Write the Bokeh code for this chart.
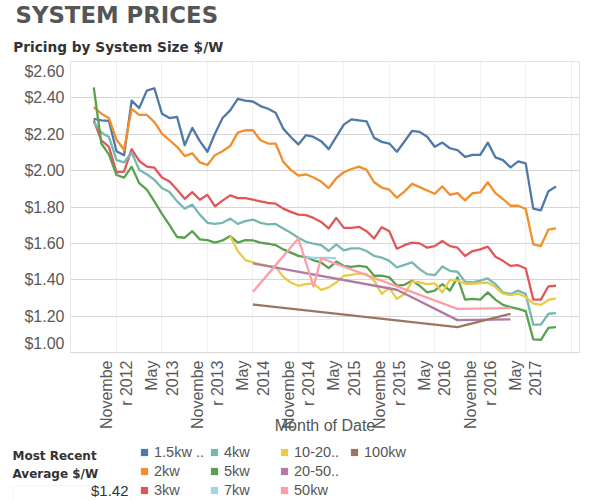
from bokeh.plotting import figure
from bokeh.models import (Range1d, FixedTicker, Label, Legend, LegendItem, ColumnDataSource,
                          BoxAnnotation)
from bokeh.layouts import column
from bokeh.embed import file_html
from bokeh.resources import INLINE
import math

# ---------------- data ----------------
series_names = ["1.5kw ..", "2kw", "3kw", "4kw", "5kw", "7kw", "10-20..", "20-50..", "50kw", "100kw"]
series_colors = ["#4e79a7", "#f28e2b", "#e15759", "#76b7b2", "#59a14f", "#9fd3e6",
                 "#edc948", "#b07aa1", "#ff9da7", "#9c755f"]

# monthly months Aug 2012 .. Sep 2017
full_months = (["2012-%02d" % m for m in range(8, 13)]
               + ["%d-%02d" % (y, m) for y in (2013, 2014, 2015, 2016) for m in range(1, 13)]
               + ["2017-%02d" % m for m in range(1, 10)])

kw1_5 = [2.285, 2.276, 2.273, 2.107, 2.085,
         2.385, 2.344, 2.44, 2.453, 2.313, 2.289, 2.295, 2.14, 2.235, 2.162, 2.104, 2.204,
         2.289, 2.331, 2.395, 2.385, 2.38, 2.355, 2.34, 2.318, 2.231, 2.185, 2.144, 2.195,
         2.185, 2.162, 2.118, 2.185, 2.253, 2.282, 2.276, 2.271, 2.18, 2.158, 2.149, 2.104,
         2.16, 2.218, 2.213, 2.186, 2.131, 2.154, 2.123, 2.113, 2.076, 2.087, 2.087, 2.154,
         2.073, 2.058, 2.018, 2.051, 2.04, 1.791, 1.782, 1.887, 1.913]
kw2 = [2.349, 2.313, 2.289, 2.17, 2.115,
       2.34, 2.307, 2.307, 2.267, 2.204, 2.167, 2.131, 2.08, 2.095, 2.045, 2.031, 2.085,
       2.107, 2.135, 2.209, 2.222, 2.222, 2.167, 2.149, 2.149, 2.049, 2.004, 1.973, 1.98,
       1.962, 1.94, 1.904, 1.958, 1.991, 2.009, 2.022, 2.004, 1.936, 1.907, 1.895, 1.851,
       1.885, 1.927, 1.909, 1.891, 1.873, 1.913, 1.867, 1.876, 1.836, 1.876, 1.88, 1.936,
       1.876, 1.844, 1.807, 1.807, 1.789, 1.595, 1.585, 1.676, 1.682]
kw3 = [2.276, 2.167, 2.131, 1.991, 1.995,
       2.118, 2.053, 2.022, 2.016, 1.962, 1.94, 1.895, 1.845, 1.882, 1.84, 1.867, 1.804,
       1.835, 1.864, 1.849, 1.849, 1.84, 1.831, 1.822, 1.818, 1.791, 1.773, 1.758, 1.755,
       1.74, 1.718, 1.682, 1.74, 1.685, 1.685, 1.691, 1.667, 1.627, 1.689, 1.667, 1.57,
       1.59, 1.604, 1.6, 1.576, 1.585, 1.613, 1.585, 1.576, 1.531, 1.558, 1.567, 1.582,
       1.527, 1.504, 1.476, 1.48, 1.462, 1.291, 1.291, 1.364, 1.367]
kw4 = [2.267, 2.209, 2.185, 2.058, 2.045,
       2.1, 2.004, 1.98, 1.949, 1.904, 1.882, 1.831, 1.791, 1.813, 1.758, 1.713, 1.707,
       1.713, 1.736, 1.707, 1.722, 1.731, 1.713, 1.704, 1.707, 1.682, 1.658, 1.631, 1.609,
       1.598, 1.591, 1.558, 1.595, 1.562, 1.573, 1.573, 1.558, 1.531, 1.522, 1.504, 1.468,
       1.482, 1.495, 1.458, 1.431, 1.425, 1.473, 1.449, 1.444, 1.389, 1.385, 1.395, 1.407,
       1.376, 1.331, 1.322, 1.34, 1.322, 1.153, 1.153, 1.213, 1.216]
kw5 = [2.458, 2.149, 2.089, 1.976, 1.962,
       2.022, 1.931, 1.895, 1.831, 1.762, 1.7, 1.635, 1.631, 1.667, 1.622, 1.618, 1.604,
       1.616, 1.64, 1.604, 1.618, 1.616, 1.604, 1.598, 1.591, 1.567, 1.549, 1.531, 1.525,
       1.507, 1.495, 1.464, 1.5, 1.476, 1.471, 1.476, 1.471, 1.422, 1.422, 1.413, 1.368,
       1.372, 1.395, 1.367, 1.331, 1.34, 1.376, 1.34, 1.413, 1.291, 1.295, 1.291, 1.331,
       1.291, 1.262, 1.249, 1.24, 1.227, 1.072, 1.07, 1.135, 1.14]

kw7_months = ["2014-12", "2015-01", "2015-02", "2015-03", "2015-04"]
kw7 = [1.525, 1.52, 1.52, 1.52, 1.518]

kw10_20_months = full_months[full_months.index("2014-02"):]
kw10_20 = [1.64, 1.558, 1.508, 1.495, 1.485, 1.476, 1.471, 1.416, 1.385, 1.367, 1.376,
           1.38, 1.344, 1.358, 1.385, 1.422, 1.427, 1.435, 1.431, 1.395, 1.322, 1.355, 1.295,
           1.322, 1.39, 1.385, 1.376, 1.38, 1.33, 1.40, 1.395, 1.378, 1.378, 1.382, 1.385,
           1.36, 1.324, 1.315, 1.324, 1.305, 1.27, 1.262, 1.289, 1.298]

kw20_50_months = ["2014-05", "2015-12", "2016-08", "2017-03"]
kw20_50 = [1.49, 1.345, 1.178, 1.182]
kw50_months = ["2014-05", "2014-11", "2015-01", "2015-02", "2016-08", "2017-03"]
kw50 = [1.333, 1.627, 1.363, 1.518, 1.24, 1.244]
kw100_months = ["2014-05", "2016-08", "2017-03"]
kw100 = [1.264, 1.14, 1.213]

tick_months = ["2012-11", "2013-05", "2013-11", "2014-05", "2014-11", "2015-05",
               "2015-11", "2016-05", "2016-11", "2017-05"]
tick_labels = ["Novembe\nr 2012", "May\n2013", "Novembe\nr 2013", "May\n2014",
               "Novembe\nr 2014", "May\n2015", "Novembe\nr 2015", "May\n2016",
               "Novembe\nr 2016", "May\n2017"]
grid_months = tick_months + ["2017-11"]

y_grid = [1.2, 1.4, 1.6, 1.8, 2.0, 2.2, 2.4]
y_labels = ["$1.00", "$1.20", "$1.40", "$1.60", "$1.80", "$2.00", "$2.20", "$2.40", "$2.60"]
y_label_pos = [1.052, 1.2, 1.4, 1.6, 1.8, 2.0, 2.2, 2.4, 2.545]

most_recent_avg = "$1.42"


def mi(s):
    y, m = s.split("-")
    return (int(y) - 2012) * 12 + (int(m) - 11)


series = [
    (full_months, kw1_5), (full_months, kw2), (full_months, kw3), (full_months, kw4),
    (full_months, kw5), (kw7_months, kw7), (kw10_20_months, kw10_20),
    (kw20_50_months, kw20_50), (kw50_months, kw50), (kw100_months, kw100),
]

W = 590


def no_align(f):
    if "frame_align" in f.properties():
        f.frame_align = False
    return f


def blank(height):
    f = figure(width=W, height=height, output_backend="svg", toolbar_location=None,
               title=None, x_axis_type=None, y_axis_type=None,
               x_range=Range1d(0, 1), y_range=Range1d(0, 1),
               min_border=0, min_border_left=0, min_border_right=0,
               min_border_top=0, min_border_bottom=0)
    f.outline_line_color = None
    f.grid.visible = False
    f.background_fill_color = "white"
    f.border_fill_color = "white"
    return no_align(f)


# ---------------- header ----------------
head = blank(58)
head.add_layout(Label(x=15, y=43.5, x_units="screen", y_units="screen", text="SYSTEM PRICES",
                      text_font="DejaVu Sans", text_font_style="bold", text_font_size="22.8px",
                      text_color="#555555", text_baseline="alphabetic"))
head.add_layout(Label(x=12.7, y=11.3, x_units="screen", y_units="screen",
                      text="Pricing by System Size $/W",
                      text_font="DejaVu Sans", text_font_style="bold", text_font_size="13.7px",
                      text_color="#333333", text_baseline="alphabetic"))

# ---------------- main chart ----------------
p = figure(width=W, height=378, output_backend="svg", toolbar_location=None,
           title=None, x_range=Range1d(-6.07, 61.1), y_range=Range1d(1.0, 2.6),
           min_border_left=70, min_border_right=11, min_border_top=3, min_border_bottom=83)
no_align(p)
p.background_fill_color = "white"
p.border_fill_color = "white"
p.outline_line_color = "#e4e4e4"

p.xaxis.ticker = FixedTicker(ticks=[mi(t) for t in tick_months])
p.xaxis.major_label_overrides = {mi(t): lab for t, lab in zip(tick_months, tick_labels)}
p.xaxis.major_label_orientation = math.pi / 2
p.xaxis.major_label_standoff = 8
p.xaxis.major_tick_out = 0
p.xaxis.major_tick_in = 0
p.xaxis.minor_tick_out = 0
p.xaxis.minor_tick_in = 0
p.xaxis.major_tick_line_color = None
p.xaxis.minor_tick_line_color = None
p.xaxis.axis_line_color = "#d9d9d9"
p.xaxis.major_label_text_font = "Liberation Sans"
p.xaxis.major_label_text_font_size = "16px"
p.xaxis.major_label_text_color = "#595959"
p.xaxis.axis_label = "Month of Date"
p.xaxis.axis_label_standoff = -15
p.xaxis.axis_label_text_font = "Liberation Sans"
p.xaxis.axis_label_text_font_size = "16px"
p.xaxis.axis_label_text_font_style = "normal"
p.xaxis.axis_label_text_color = "#555555"

p.yaxis.ticker = FixedTicker(ticks=y_label_pos)
p.yaxis.major_label_overrides = {v: lab for v, lab in zip(y_label_pos, y_labels)}
p.yaxis.major_label_standoff = 6
p.yaxis.major_tick_out = 0
p.yaxis.major_tick_in = 0
p.yaxis.minor_tick_out = 0
p.yaxis.minor_tick_in = 0
p.yaxis.major_tick_line_color = None
p.yaxis.minor_tick_line_color = None
p.yaxis.axis_line_color = "#e4e4e4"
p.yaxis.major_label_text_font = "Liberation Sans"
p.yaxis.major_label_text_font_size = "16px"
p.yaxis.major_label_text_color = "#595959"

p.xgrid.ticker = FixedTicker(ticks=[mi(t) for t in grid_months])
p.xgrid.grid_line_color = "#efefef"
p.ygrid.ticker = FixedTicker(ticks=y_grid)
p.ygrid.grid_line_color = "#d6d6d6"

for (months, vals), color in zip(series, series_colors):
    src = ColumnDataSource(dict(x=[mi(m) for m in months], y=vals))
    p.line("x", "y", source=src, line_color=color, line_width=2.3, line_join="round")

# ---------------- footer (legend) ----------------
foot = blank(65)
items = []
for name, color in zip(series_names, series_colors):
    # placeholder renderer: only its swatch is shown in the legend
    r = foot.scatter(x=[float("nan")], y=[float("nan")], marker="square", size=8,
                     fill_color=color, line_color=None)
    items.append(LegendItem(label=name, renderers=[r]))

legend = Legend(items=items, location=(135, 2), orientation="vertical", nrows=3,
                glyph_width=18, glyph_height=18, label_standoff=1, label_width=50,
                label_height=18, spacing=1, padding=0, margin=0,
                border_line_color=None, background_fill_alpha=0,
                label_text_font="Liberation Sans", label_text_font_size="14.5px",
                label_text_color="#555555")
foot.add_layout(legend, "center")

foot.add_layout(Label(x=12, y=46, x_units="screen", y_units="screen", text="Most Recent",
                      text_font="DejaVu Sans", text_font_style="bold", text_font_size="12px",
                      text_color="#333333", text_baseline="alphabetic"))
foot.add_layout(Label(x=12, y=28, x_units="screen", y_units="screen", text="Average $/W",
                      text_font="DejaVu Sans", text_font_style="bold", text_font_size="12px",
                      text_color="#333333", text_baseline="alphabetic"))
foot.add_layout(BoxAnnotation(left=12, right=131, bottom=0, top=16,
                              left_units="screen", right_units="screen",
                              bottom_units="screen", top_units="screen",
                              fill_alpha=0, line_color="#e2e2e2", line_width=1))
foot.add_layout(Label(x=128, y=11, x_units="screen", y_units="screen", text=most_recent_avg,
                      text_font="Liberation Sans", text_font_size="15px", text_color="#333333",
                      text_align="right", text_baseline="alphabetic"))

page = column(head, p, foot, spacing=0)
open("out.html", "w").write(file_html(page, INLINE))
